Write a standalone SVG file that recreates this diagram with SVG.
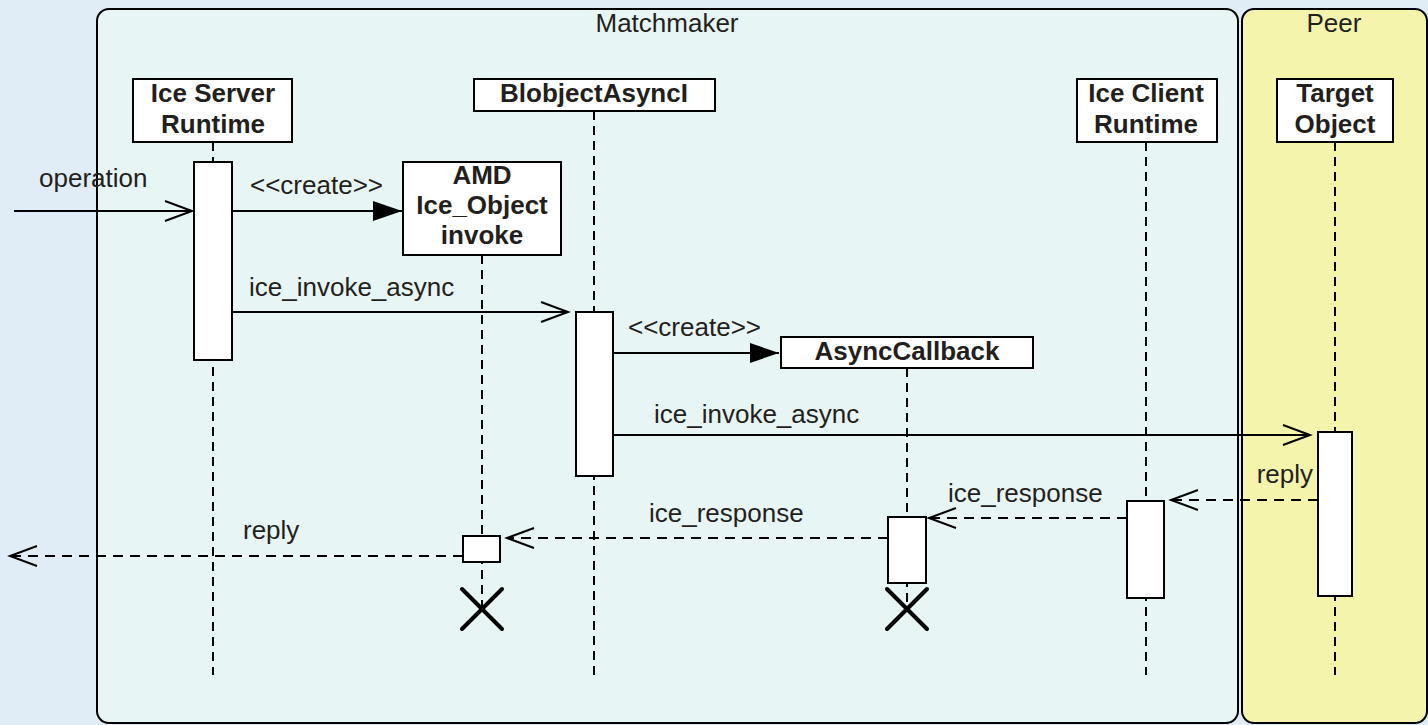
<svg xmlns="http://www.w3.org/2000/svg" width="1428" height="725" viewBox="0 0 1428 725">
<style>
text{font-family:"Liberation Sans",Arial,sans-serif;font-size:26px;fill:#231F20}
.b{font-weight:bold}
.frame{stroke:#000;stroke-width:2}
.head{fill:#fff;stroke:#000;stroke-width:2}
.act{fill:#fff;stroke:#000;stroke-width:2}
.life{stroke:#000;stroke-width:2;stroke-dasharray:9 6;fill:none}
.msg{stroke:#000;stroke-width:2;fill:none}
.ret{stroke:#000;stroke-width:2;fill:none;stroke-dasharray:10 7}
.x{stroke:#000;stroke-width:4;stroke-linecap:round}
</style>
<defs>
<marker id="open" markerUnits="userSpaceOnUse" markerWidth="32" markerHeight="26" refX="29" refY="12" orient="auto">
<path d="M2,2 L29,12 L2,22" fill="none" stroke="#000" stroke-width="2"/>
</marker>
<marker id="filled" markerUnits="userSpaceOnUse" markerWidth="32" markerHeight="24" refX="30" refY="11" orient="auto">
<path d="M1,1 L30,11 L1,21 Z" fill="#000"/>
</marker>
</defs>
<rect x="0" y="0" width="1428" height="725" fill="#E1EDF6"/>
<g id="matchmaker">
<rect class="frame" x="97" y="9" width="1141" height="714" rx="12" fill="#E8F5F5"/>
<text x="667" y="32" text-anchor="middle">Matchmaker</text>
</g>
<g id="peer">
<rect class="frame" x="1242" y="9" width="185" height="714" rx="12" fill="#F4F4AC"/>
<text x="1334" y="32" text-anchor="middle">Peer</text>
</g>
<g id="lifelines">
<line class="life" x1="213" y1="142" x2="213" y2="675"/>
<line class="life" x1="594" y1="111" x2="594" y2="675"/>
<line class="life" x1="482" y1="255" x2="482" y2="609"/>
<line class="life" x1="907" y1="368" x2="907" y2="609"/>
<line class="life" x1="1146" y1="142" x2="1146" y2="675"/>
<line class="life" x1="1335" y1="142" x2="1335" y2="675"/>
</g>
<g id="ice-server-runtime">
<rect class="head" x="133" y="79" width="159" height="63"/>
<text class="b" x="213" y="102" text-anchor="middle">Ice Server</text>
<text class="b" x="213" y="133" text-anchor="middle">Runtime</text>
<rect class="act" x="194" y="162" width="38" height="198"/>
</g>
<g id="blobject-async">
<rect class="head" x="474" y="79" width="241" height="32"/>
<text class="b" x="594" y="102" text-anchor="middle">BlobjectAsyncI</text>
<rect class="act" x="576" y="312" width="37" height="164"/>
</g>
<g id="amd-ice-object">
<rect class="head" x="403" y="162" width="158" height="93"/>
<text class="b" x="482" y="184" text-anchor="middle">AMD</text>
<text class="b" x="482" y="214" text-anchor="middle">Ice_Object</text>
<text class="b" x="482" y="244" text-anchor="middle">invoke</text>
<rect class="act" x="463" y="536" width="37" height="26"/>
<line class="x" x1="462" y1="589" x2="502" y2="629"/>
<line class="x" x1="502" y1="589" x2="462" y2="629"/>
</g>
<g id="async-callback">
<rect class="head" x="781" y="337" width="252" height="31"/>
<text class="b" x="907" y="360" text-anchor="middle">AsyncCallback</text>
<rect class="act" x="888" y="517" width="38" height="66"/>
<line class="x" x1="887" y1="589" x2="927" y2="629"/>
<line class="x" x1="927" y1="589" x2="887" y2="629"/>
</g>
<g id="ice-client-runtime">
<rect class="head" x="1077" y="79" width="140" height="63"/>
<text class="b" x="1146" y="102" text-anchor="middle">Ice Client</text>
<text class="b" x="1146" y="133" text-anchor="middle">Runtime</text>
<rect class="act" x="1127" y="501" width="37" height="97"/>
</g>
<g id="target-object">
<rect class="head" x="1277" y="79" width="116" height="63"/>
<text class="b" x="1335" y="102" text-anchor="middle">Target</text>
<text class="b" x="1335" y="133" text-anchor="middle">Object</text>
<rect class="act" x="1318" y="432" width="34" height="164"/>
</g>
<g id="connectors">
<line class="msg" x1="14" y1="211" x2="192" y2="211" marker-end="url(#open)"/>
<text x="39" y="187">operation</text>
<line class="msg" x1="232" y1="211" x2="402" y2="211" marker-end="url(#filled)"/>
<text x="250" y="194">&lt;&lt;create&gt;&gt;</text>
<line class="msg" x1="232" y1="312" x2="568" y2="312" marker-end="url(#open)"/>
<text x="249" y="296">ice_invoke_async</text>
<line class="msg" x1="613" y1="353" x2="779" y2="353" marker-end="url(#filled)"/>
<text x="628" y="336">&lt;&lt;create&gt;&gt;</text>
<line class="msg" x1="613" y1="435" x2="1310" y2="435" marker-end="url(#open)"/>
<text x="654" y="423">ice_invoke_async</text>
<line class="ret" x1="1318" y1="500" x2="1171" y2="500" marker-end="url(#open)"/>
<text x="1313" y="483" text-anchor="end">reply</text>
<line class="ret" x1="1127" y1="518" x2="929" y2="518" marker-end="url(#open)"/>
<text x="948" y="502">ice_response</text>
<line class="ret" x1="888" y1="538" x2="507" y2="538" marker-end="url(#open)"/>
<text x="649" y="522">ice_response</text>
<line class="ret" x1="463" y1="556" x2="10" y2="556" marker-end="url(#open)"/>
<text x="243" y="539">reply</text>
</g>
</svg>
